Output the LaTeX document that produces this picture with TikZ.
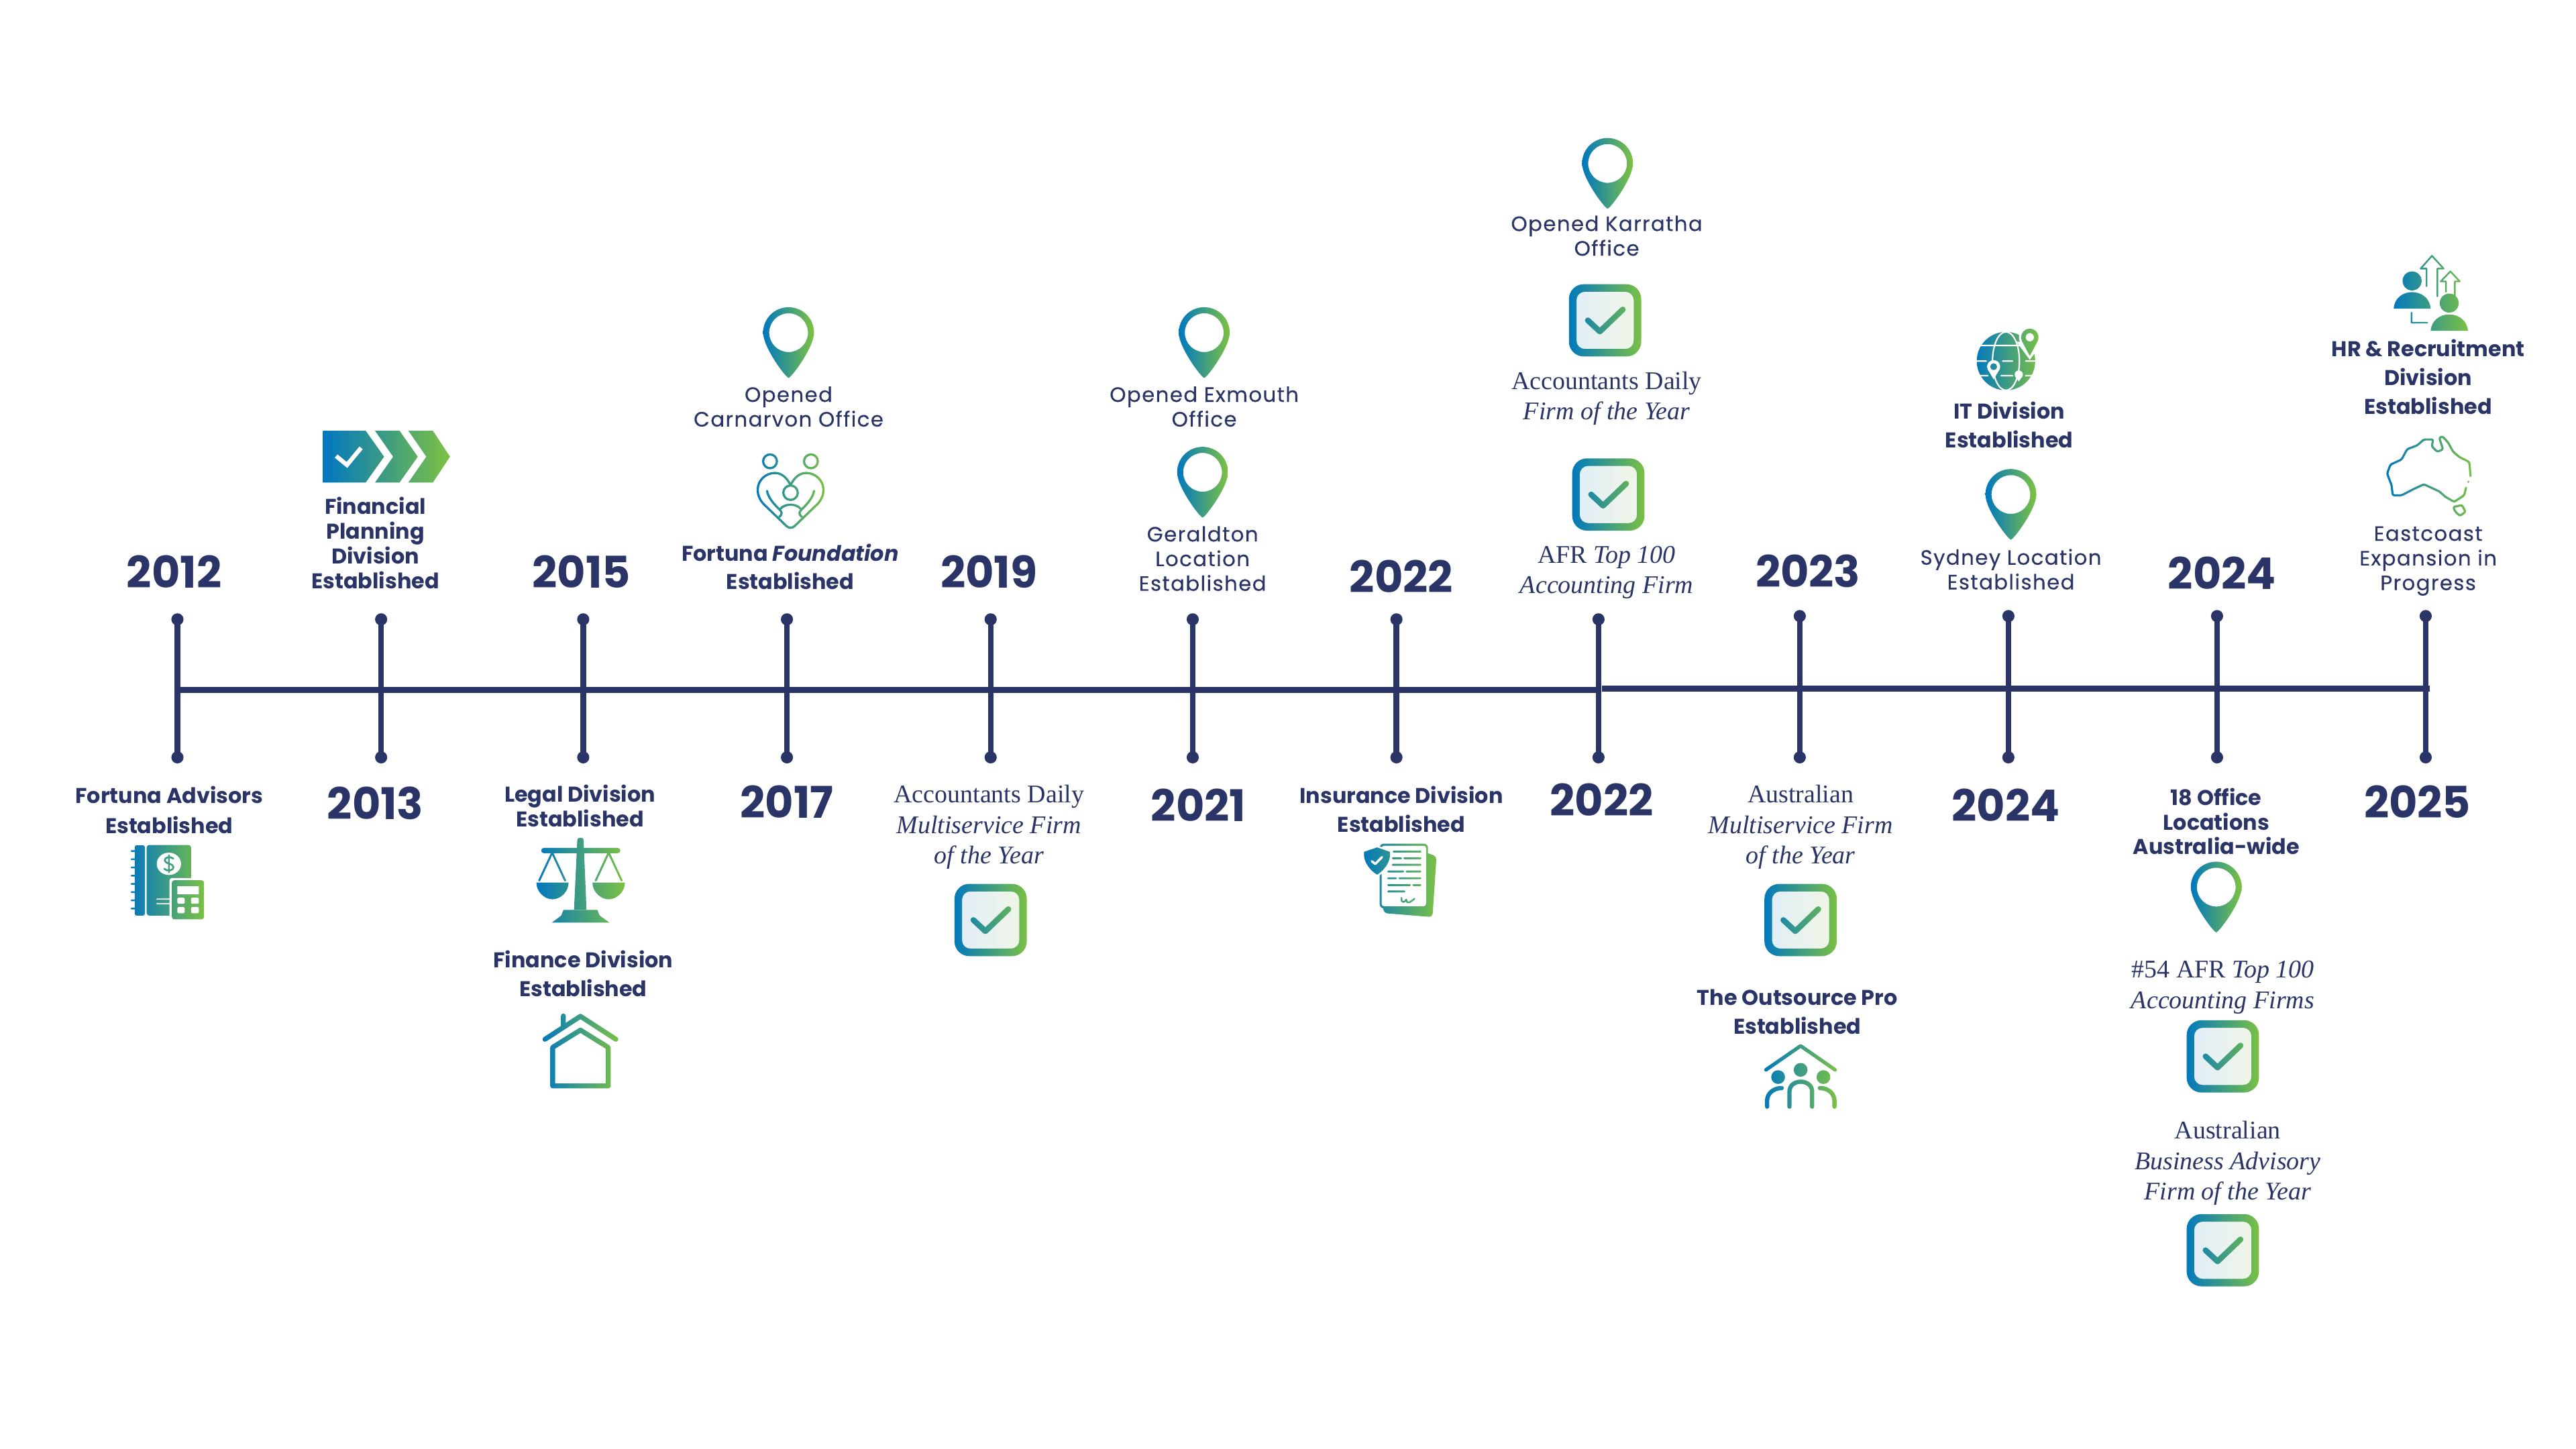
\documentclass[tikz,border=0pt]{standalone}
\usepackage{fontspec}
\setmainfont{Poppins}
\newfontfamily\serfam{Liberation Serif}
\newfontfamily\regfam[LetterSpace=4.5,FakeBold=0.3]{Poppins}
\usetikzlibrary{fadings}
\definecolor{navy}{HTML}{2B3467}
\definecolor{gb}{HTML}{0077C0}
\definecolor{gg}{HTML}{7DC242}
\definecolor{lb}{HTML}{E2EEF7}
\definecolor{lg}{HTML}{EFF6E7}
\tikzset{
 fs/.style={draw=transparent!0,line width=#1,line cap=round,line join=round,fill=none},
 fs/.default=1.4,
 ff/.style={fill=transparent!0,draw=none},
 fc/.style={fill=transparent!100,draw=none},
 fw/.style={draw=transparent!100,line width=#1,line cap=round,line join=round,fill=none},
 fw/.default=1,
 gradshade/.style={left color=gb,right color=gg,draw=none},
 yearlab/.style={font=\bfseries\fontsize{26.6}{27}\selectfont,text=navy,inner sep=0pt},
 labB/.style={font=\bfseries\fontsize{13}{#1}\selectfont,text=navy,inner sep=0pt,align=center},
 labR/.style={font=\regfam\fontsize{12.6}{#1}\selectfont,text=navy,inner sep=0pt,align=center},
 labS/.style={font=\serfam\fontsize{15.5}{#1}\selectfont,text=navy,inner sep=0pt,align=center},
 tickdot/.style={circle,fill=navy,inner sep=0pt,minimum size=7.4pt},
 tickline/.style={draw=navy,line width=3.4pt},
 axisline/.style={draw=navy,line width=3.7pt},
 axisnode/.style={inner sep=0pt,minimum size=0pt},
}
% check mark and border of the award box, centred on 0,0
\begin{tikzfadingfrompicture}[name=fadeBox,x=1pt,y=-1pt]
\useasboundingbox (-23,-23) rectangle (23,23);
\fill[ff,even odd rule] (-22,-22) [rounded corners=9pt] rectangle (22,22) [rounded corners=5pt] (-17.4,-17.4) rectangle (17.4,17.4);
\draw[fs=3.5] (-10.5,0) -- (-3.2,6.8) -- (10.8,-6.6);
\end{tikzfadingfrompicture}
\begin{tikzfadingfrompicture}[name=fadeBook,x=1pt,y=-1pt]
\useasboundingbox (79,513) rectangle (125,561);
\fill[ff,rounded corners=1.2pt] (82,514.5) rectangle (88.2,557.3);
\foreach \y in {518,523,528,533,538,543,548,553} \draw[fs=1] (80,\y) -- (85,\y);
\fill[ff,rounded corners=1.5pt] (89.3,514.3) rectangle (116.3,557.3);
\fill[fc] (102.8,525.8) ellipse (7.4 and 6.8);
\draw[fs=1.1] (105.5,522.6) .. controls (103.5,521) and (100,521.8) .. (100.3,523.8) .. controls (100.6,526) and (105.5,525.4) .. (105.6,527.8) .. controls (105.7,530) and (101.6,530.6) .. (100,528.8);
\draw[fs=1] (102.8,520.6) -- (102.8,531);
\draw[fw=.7] (95.5,547.3) -- (104,547.3);
\draw[fw=.7] (95.5,550.1) -- (104,550.1);
\fill[fc,rounded corners=1.5pt] (103.2,534.4) rectangle (125,561);
\fill[ff,rounded corners=1.5pt] (104.6,535.8) rectangle (124.2,559.6);
\fill[fc] (108,539.5) rectangle (121,544.4);
\fill[fc,rounded corners=.6pt] (108,546.4) rectangle (112.4,550.1);
\fill[fc,rounded corners=.6pt] (116.3,546.4) rectangle (121,550.1);
\fill[fc,rounded corners=.6pt] (108,552.1) rectangle (112.4,555.9);
\fill[fc,rounded corners=.6pt] (116.3,552.1) rectangle (121,555.9);
\end{tikzfadingfrompicture}
\begin{tikzfadingfrompicture}[name=fadeScales,x=1pt,y=-1pt]
\useasboundingbox (326,509) rectangle (381,562);
\draw[fs=3.2] (331,517.7) -- (376,517.7);
\fill[ff] (351.4,511) .. controls (351.4,509.6) and (355.2,509.6) .. (355.2,511) -- (357,553.8) -- (349.4,553.8) -- cycle;
\fill[ff] (343,553.8) -- (363.6,553.8) -- (365,557.3) -- (371,561.6) -- (335.9,561.6) -- (341.6,557.3) -- cycle;
\draw[fs=1.2] (328.2,536) -- (336.1,519) -- (344,536);
\draw[fs=1.2] (362.6,536) -- (370.5,519) -- (378.4,536);
\fill[ff] (326.5,537.2) -- (346.1,537.2) .. controls (346.1,543) and (341,547.4) .. (336.3,547.4) .. controls (331.6,547.4) and (326.5,543) .. (326.5,537.2) -- cycle;
\fill[ff] (360.6,537.2) -- (380.4,537.2) .. controls (380.4,543) and (375.2,547.4) .. (370.5,547.4) .. controls (365.8,547.4) and (360.6,543) .. (360.6,537.2) -- cycle;
\end{tikzfadingfrompicture}
\begin{tikzfadingfrompicture}[name=fadeHouse,x=1pt,y=-1pt]
\useasboundingbox (329,616) rectangle (377,663);
\draw[fs=3] (331.7,632.6) -- (353.3,618.6) -- (374.9,632.6);
\draw[fs=3] (342.9,618.4) -- (342.9,624.4);
\draw[fs=3] (336.4,637.5) -- (353.3,627) -- (370.2,637.5) -- (370.2,661) -- (336.4,661) -- cycle;
\end{tikzfadingfrompicture}
\begin{tikzfadingfrompicture}[name=fadeHeart,x=1pt,y=-1pt]
\useasboundingbox (459,275) rectangle (503,323);
\draw[fs=1.35] (468.7,280.8) circle (4.2);
\draw[fs=1.35] (493.6,280.8) circle (4.2);
\draw[fs=1.35] (481.2,299.9) circle (4.4);
\draw[fs=1.35] (481.2,295.4) .. controls (479,290.5) and (475.5,287.9) .. (471.7,287.9) .. controls (465.8,287.9) and (461.2,292.6) .. (461.2,298.1) .. controls (461.2,301.6) and (462.6,304.4) .. (464.6,306.6) -- (478.7,320.2) .. controls (480.2,321.6) and (482.2,321.6) .. (483.7,320.2) -- (497.8,306.6) .. controls (499.8,304.4) and (501.2,301.6) .. (501.2,298.1) .. controls (501.2,292.6) and (496.6,287.9) .. (490.7,287.9) .. controls (486.9,287.9) and (483.4,290.5) .. (481.2,295.4);
\draw[fs=1.35] (466.9,298.8) .. controls (467.6,303) and (471,306.6) .. (473.7,309.4) .. controls (476,311.4) and (476.6,312.6) .. (474.4,314.6);
\draw[fs=1.35] (495.5,298.8) .. controls (494.8,303) and (491.4,306.6) .. (488.7,309.4) .. controls (486.4,311.4) and (485.8,312.6) .. (488,314.6);
\draw[fs=1.35] (475.1,309.6) .. controls (478,306.4) and (484.4,306.4) .. (487.3,309.6);
\end{tikzfadingfrompicture}
\begin{tikzfadingfrompicture}[name=fadeDoc,x=1pt,y=-1pt]
\useasboundingbox (829,512) rectangle (875.5,559);
\fill[ff,rounded corners=2pt] (864,517.6) -- (874.4,521.2) -- (871.9,558.2) -- (842.4,555.8) -- (841,548) -- cycle;
\fill[ff,rounded corners=2.5pt] (839.8,513.5) rectangle (869.2,552.9);
\fill[fc,rounded corners=1.5pt] (841,514.8) rectangle (868,551.6);
\foreach \a/\b/\y in {232/352/518.3,228/265/522.4,280/352/522.4,228/352/526.4,208/275/530.5,290/352/530.5,208/242/534.6,258/352/534.6,208/305/538.7,320/352/538.7,208/280/542.6}
  \draw[fs=1.2] ({816.7+\a*.1361},\y) -- ({816.7+\b*.1361},\y);
\draw[fs=1] (853,546.5) .. controls (852.8,550) and (855,549.5) .. (856,547.5) .. controls (856.2,550.5) and (858,549.5) .. (861,547);
\fill[fc] (838.2,514.6) -- (829,518) -- (829,522) .. controls (830,527) and (834,531.5) .. (838.2,533.6) .. controls (842.4,531.5) and (846.6,527) .. (847.3,522) -- (847.3,518) -- cycle;
\fill[ff] (838.2,515.8) -- (830.3,518.5) -- (830.3,521.5) .. controls (831,526) and (834.5,530.2) .. (838.2,532.4) .. controls (841.9,530.2) and (845.4,526) .. (846,521.5) -- (846,518.5) -- cycle;
\draw[fw=1.4] (835,524.2) -- (837.1,525.9) -- (841.2,521.7);
\end{tikzfadingfrompicture}
\begin{tikzfadingfrompicture}[name=fadeFamily,x=1pt,y=-1pt]
\useasboundingbox (1073,635) rectangle (1119,675);
\draw[fs=2.2] (1074.9,651.2) -- (1096,636.6) -- (1117,651.2);
\fill[ff] (1082.3,655.6) circle (4.2);
\fill[ff] (1096,651.2) circle (4.2);
\fill[ff] (1109.9,655.6) circle (4.2);
\draw[fs=2.6] (1089.2,673.6) -- (1089.2,664.5) .. controls (1089.2,656.4) and (1103,656.4) .. (1103,664.5) -- (1103,673.6);
\draw[fs=2.6] (1075.6,673.6) -- (1075.6,670) .. controls (1075.6,666) and (1079,662.3) .. (1084.5,662.3);
\draw[fs=2.6] (1116.6,673.6) -- (1116.6,670) .. controls (1116.6,666) and (1113.2,662.3) .. (1107.7,662.3);
\end{tikzfadingfrompicture}
\begin{tikzfadingfrompicture}[name=fadeGlobe,x=1pt,y=-1pt]
\useasboundingbox (1202,198) rectangle (1242,239);
\fill[ff] (1221,219.8) circle (17.8);
\draw[fw=.9] (1221,219.8) ellipse (8.2 and 17.8);
\draw[fw=.9] (1205,210.3) -- (1232,210.3);
\draw[fw=.9] (1203,219.8) -- (1209,219.8);
\draw[fw=.9] (1219,219.8) -- (1225,219.8);
\draw[fw=.9] (1233,219.8) -- (1239,219.8);
\draw[fw=.9] (1205,228.7) -- (1210,228.7);
\draw[fw=.9] (1218,228.7) -- (1225,228.7);
\draw[fw=.9] (1233,228.7) -- (1237,228.7);
\fill[fc] (1235.5,205.3) circle (6.6);
\fill[fc] (1227.4,208) -- (1243.6,208) -- (1235.5,219) -- cycle;
\fill[ff] (1235.5,205.3) circle (5.3);
\fill[ff] (1230.6,207.4) -- (1240.4,207.4) -- (1235.5,216.7) -- cycle;
\fill[fc] (1235.5,205.3) circle (2.5);
\fill[fc] (1213.5,223.2) circle (4);
\fill[fc] (1209.9,224.8) -- (1217.1,224.8) -- (1213.5,230.9) -- cycle;
\fill[ff] (1213.5,223.2) circle (2.1);
\fill[fc] (1228.8,228) circle (2.5);
\fill[fc] (1226.6,229) -- (1231,229) -- (1228.8,232.2) -- cycle;
\end{tikzfadingfrompicture}
\begin{tikzfadingfrompicture}[name=fadeHR,x=1pt,y=-1pt]
\useasboundingbox (1456,154) rectangle (1503,202);
\fill[ff] (1468.2,171) circle (5.8);
\fill[ff] (1457,187.9) .. controls (1457.4,181.4) and (1462.6,177.8) .. (1468.2,177.8) .. controls (1473.8,177.8) and (1479,181.4) .. (1479.5,187.9) -- cycle;
\fill[ff] (1490.8,184.5) circle (5.8);
\fill[ff] (1479.5,201.4) .. controls (1480,194.9) and (1485.2,191.4) .. (1490.8,191.4) .. controls (1496.4,191.4) and (1501.7,194.9) .. (1502.2,201.4) -- cycle;
\draw[fs=1] (1467.9,190.3) -- (1467.9,196.4) -- (1477.5,196.4);
\draw[fs=1] (1477,174.2) -- (1477,163.5) -- (1473.4,163.5) -- (1480.3,155.7) -- (1487.4,163.5) -- (1483.6,163.5) -- (1483.6,180.4);
\draw[fs=1] (1488.8,177.6) -- (1488.8,171.3) -- (1485.6,171.3) -- (1491.5,165.2) -- (1497.2,171.3) -- (1494.2,171.3) -- (1494.2,180);
\end{tikzfadingfrompicture}
\begin{tikzfadingfrompicture}[name=fadeAus,x=1pt,y=-1pt]
\useasboundingbox (1451,263) rectangle (1506,316);
\draw[fs=1.3,rounded corners=1pt] (1503.8,289.8) -- (1503,281.2) -- (1497,278.2) -- (1493.2,275) -- (1490.2,269.5) -- (1486.8,265.7) -- (1484.7,266.4) -- (1487,273.5) -- (1483.6,275) -- (1480.2,271.8) -- (1481,267.5) -- (1475.4,267.5) -- (1471.3,271.1) -- (1465.2,273.4) -- (1461.8,279.7) -- (1455,282.8) -- (1453,288.3) -- (1455.7,295.3) -- (1456.4,301.5) -- (1461.8,301.5) -- (1469.3,297.6) -- (1475.4,294.8) -- (1484.9,299.2) -- (1488.3,302.3) -- (1493.8,305.5) -- (1499.9,301.5) -- (1501,296.9);
\fill[ff] (1502.4,293.3) circle (.7);
\draw[fs=1.3,rounded corners=1pt] (1493.2,308.6) -- (1498.6,307.4) -- (1500.7,311.6) -- (1497.3,314) -- (1494.6,311.6) -- cycle;
\end{tikzfadingfrompicture}
\newcommand\iconshade[5]{%
 \pgfmathsetmacro\cxv{(#2+#4)/2}\pgfmathsetmacro\cyv{(#3+#5)/2}%
 \shade[gradshade,path fading=#1,fit fading=false,fading transform={shift={(\cxv,\cyv)}}] (#2,#3) rectangle (#4,#5);}
\newcommand\awardbox[2]{%
 \shade[left color=lb,right color=lg,draw=none] (#1-18,#2-18) rectangle (#1+18,#2+18);
 \iconshade{fadeBox}{#1-23}{#2-23}{#1+23}{#2+23}}
\newcommand\pinmark[2]{%
 \shade[gradshade,even odd rule,shift={(#1,#2)}] (0,43) .. controls (-1.6,43) and (-15.5,24.5) .. (-15.5,15.5) .. controls (-15.5,6.9) and (-8.6,0) .. (0,0) .. controls (8.6,0) and (15.5,6.9) .. (15.5,15.5) .. controls (15.5,24.5) and (1.6,43) .. (0,43) -- cycle (0,15.5) circle (11.8);}
\begin{document}
\begin{tikzpicture}[x=1pt,y=-1pt]
\useasboundingbox (0,0) rectangle (1568,882);
% axis
\foreach \i/\x/\ty in {1/108/377,2/232/377,3/355/377,4/479/377,5/603/377,6/726/377,7/850/377,8/973/377,9/1095.5/375,10/1222.5/375,11/1349.5/375,12/1476.5/375}{
 \node[tickdot] (t\i) at (\x,\ty) {};
 \node[tickdot] (b\i) at (\x,461) {};
 \draw[tickline] (t\i.center) -- (b\i.center);
}
\node[axisnode] (axisA) at (108,420) {};
\node[axisnode] (axisB) at (973,420) {};
\node[axisnode] (axisC) at (975,419) {};
\node[axisnode] (axisD) at (1479,419) {};
\draw[axisline] (axisA) -- (axisB);
\draw[axisline] (axisC) -- (axisD);
% years
\node[yearlab] (y2012) at (106,348) {2012};
\node[yearlab] (y2013) at (228.5,489) {2013};
\node[yearlab] (y2015) at (354,348) {2015};
\node[yearlab] (y2017) at (479,488) {2017};
\node[yearlab] (y2019) at (602,348) {2019};
\node[yearlab] (y2021) at (729.5,490) {2021};
\node[yearlab] (y2022a) at (853,351) {2022};
\node[yearlab] (y2022b) at (975,487) {2022};
\node[yearlab] (y2023) at (1100.5,347.5) {2023};
\node[yearlab] (y2024a) at (1221,490) {2024};
\node[yearlab] (y2024b) at (1352.5,349) {2024};
\node[yearlab] (y2025) at (1471.5,488) {2025};
% labels above
\node[labB=15] (fp) at (228.5,330.5) {Financial\\Planning\\Division\\Established};
\node[labR=15] (carn) at (480,247.5) {Opened\\Carnarvon Office};
\node[labB=17.5] (found) at (481,345) {Fortuna \textit{Foundation}\\Established};
\node[labR=15] (exm) at (733,247.5) {Opened Exmouth\\Office};
\node[labR=15] (ger) at (732,340) {Geraldton\\Location\\Established};
\node[labR=15] (kar) at (978,143.5) {Opened Karratha\\Office};
\node[labS=18.5] (adf) at (978,242.5) {Accountants Daily\\\textit{Firm of the Year}};
\node[labS=18.5] (afr) at (978,348.5) {AFR \textit{Top 100}\\\textit{Accounting Firm}};
\node[labB=17.5] (itd) at (1223,258.5) {IT Division\\Established};
\node[labR=15] (syd) at (1224,346.5) {Sydney Location\\Established};
\node[labB=17.5] (hr) at (1478,229.5) {HR \& Recruitment\\Division\\Established};
\node[labR=15] (east) at (1478,341.5) {Eastcoast\\Expansion in\\Progress};
% labels below
\node[labB=18] (fa) at (103,493) {Fortuna Advisors\\Established};
\node[labB=15] (legal) at (353,490.5) {Legal Division\\Established};
\node[labB=17.5] (fin) at (355,592.5) {Finance Division\\Established};
\node[labS=18.5] (adm) at (602,503.5) {Accountants Daily\\\textit{Multiservice Firm}\\\textit{of the Year}};
\node[labB=17.5] (ins) at (853,492.5) {Insurance Division\\Established};
\node[labS=18.5] (aum) at (1096,503.5) {Australian\\\textit{Multiservice Firm}\\\textit{of the Year}};
\node[labB=17.5] (top) at (1094,616) {The Outsource Pro\\Established};
\node[labB=15] (off) at (1349,500) {18 Office\\Locations\\Australia-wide};
\node[labS=18.5] (n54) at (1353,601) {\#54 AFR \textit{Top 100}\\\textit{Accounting Firms}};
\node[labS=18.5] (aub) at (1356,708) {Australian\\\textit{Business Advisory}\\\textit{Firm of the Year}};
% pins
\pinmark{480}{187}
\pinmark{733}{187}
\pinmark{732}{272}
\pinmark{978.5}{84}
\pinmark{1224}{285.5}
\pinmark{1349}{524.5}
% award boxes
\awardbox{977}{195}
\awardbox{979}{301}
\awardbox{603}{560}
\awardbox{1096}{560}
\awardbox{1353}{643}
\awardbox{1353}{761}
% chevrons
\shade[gradshade] (196.6,262.2) -- (222.6,262.2) -- (233.8,278) -- (222.6,293.7) -- (196.6,293.7) -- cycle
 (228.3,262.2) -- (243.2,262.2) -- (254.3,278) -- (243.2,293.7) -- (228.3,293.7) -- (239.3,278) -- cycle
 (248.6,262.2) -- (263.5,262.2) -- (273.9,278) -- (263.5,293.7) -- (248.6,293.7) -- (259.5,278) -- cycle;
\draw[white,line width=2.6pt,line cap=butt,line join=miter] (204.6,277.6) -- (211.2,283) -- (219.8,272.6);
% icons
\iconshade{fadeBook}{79}{513}{125}{561}
\iconshade{fadeScales}{326}{509}{381}{562}
\iconshade{fadeHouse}{329}{616}{377}{663}
\iconshade{fadeHeart}{459}{275}{503}{323}
\iconshade{fadeDoc}{829}{512}{875.5}{559}
\iconshade{fadeFamily}{1073}{635}{1119}{675}
\iconshade{fadeGlobe}{1202}{198}{1242}{239}
\iconshade{fadeHR}{1456}{154}{1503}{202}
\iconshade{fadeAus}{1451}{263}{1506}{316}
\end{tikzpicture}
\end{document}
